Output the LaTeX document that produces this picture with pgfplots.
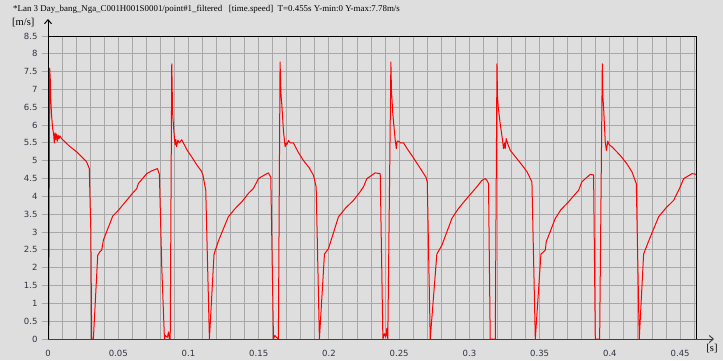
\documentclass[border=0pt]{standalone}
\usepackage{pgfplots}
\pgfplotsset{compat=1.18}
\usepackage{fontspec}
\setmainfont{Liberation Serif}
\newfontfamily\tickfont{DejaVu Sans}
\usetikzlibrary{arrows.meta}
\definecolor{bgc}{RGB}{222,222,222}
\definecolor{gridc}{RGB}{168,168,168}
\definecolor{tickc}{RGB}{45,52,68}
\begin{document}
\begin{tikzpicture}
\fill[bgc] (-48pt,-21pt) rectangle (675pt,339pt);
\useasboundingbox (-48pt,-21pt) rectangle (675pt,339pt);
\begin{axis}[
  at={(0pt,0pt)}, anchor=south west,
  scale only axis, width=648pt, height=303pt,
  xmin=0, xmax=0.4613, ymin=0, ymax=8.5,
  axis line style={draw=none},
  xtick={0,0.05,...,0.46},
  minor xtick={0.01,0.02,...,0.46},
  ytick={0,0.5,...,8.5},
  xtick pos=bottom, ytick pos=left,
  tick align=outside,
  major tick length=6pt,
  minor tick length=0pt,
  x tick style={draw=none},
  y tick style={draw=gridc, line width=1pt},
  grid=both,
  major grid style={draw=gridc, line width=1pt},
  minor grid style={draw=gridc, line width=1pt},
  /pgf/number format/assume math mode=true,
  /pgf/number format/fixed,
  /pgf/number format/precision=2,
  ticklabel style={font=\tickfont\fontsize{8.5}{10}\selectfont, text=tickc},
  xticklabel style={yshift=-1.5pt},
  yticklabel style={xshift=-1pt},
  clip=false,
]
\addplot[red, line width=1pt, line join=round] coordinates {
(0,0) (0.0005,0) (0.0012,7.6) (0.0016,7.3) (0.0019,6.79) (0.0025,6.3) (0.0033,5.91)
(0.0040,5.75) (0.0045,5.5) (0.0050,5.78) (0.0055,5.6) (0.0060,5.75) (0.0066,5.55)
(0.0072,5.72) (0.0078,5.62) (0.0084,5.7) (0.0097,5.62) (0.0150,5.42) (0.0204,5.25)
(0.0250,5.07) (0.0275,4.97) (0.0294,4.78) (0.0305,3.0) (0.0311,0) (0.0323,0)
(0.0354,2.35) (0.0370,2.45) (0.0382,2.49) (0.0394,2.77) (0.0461,3.45) (0.0501,3.61)
(0.0560,3.89) (0.0600,4.08) (0.0632,4.22) (0.0643,4.36) (0.0703,4.64) (0.0740,4.72)
(0.0779,4.78) (0.0793,4.62) (0.0810,2.0) (0.0829,0) (0.0835,0.1) (0.0850,0.05)
(0.0858,0.2) (0.0864,0) (0.0870,0) (0.0881,7.72) (0.0884,7.1) (0.0886,6.41)
(0.0893,6.0) (0.0900,5.62) (0.0905,5.45) (0.0910,5.6) (0.0915,5.4) (0.0925,5.58)
(0.0935,5.5) (0.0952,5.59) (0.0990,5.3) (0.1023,5.11) (0.1060,4.88) (0.1090,4.72)
(0.1102,4.62) (0.1123,4.17) (0.1149,0) (0.1182,2.38) (0.1213,2.75) (0.1284,3.43)
(0.1330,3.65) (0.1380,3.85) (0.1430,4.1) (0.1462,4.22) (0.1498,4.50) (0.1540,4.6)
(0.1569,4.66) (0.1586,4.54) (0.1605,0) (0.1615,0.1) (0.1625,0.05) (0.1640,0)
(0.1652,7.77) (0.1658,6.9) (0.1664,6.60) (0.1676,5.85) (0.1688,5.39) (0.1695,5.5)
(0.1700,5.45) (0.1712,5.57) (0.1725,5.5) (0.1747,5.5) (0.1780,5.25) (0.1818,5.01)
(0.1860,4.8) (0.1890,4.59) (0.1909,4.27) (0.1932,0) (0.1968,2.38) (0.1997,2.54)
(0.2068,3.43) (0.2120,3.68) (0.2175,3.89) (0.2220,4.12) (0.2246,4.27) (0.2270,4.50)
(0.2300,4.58) (0.2329,4.66) (0.2365,4.64) (0.2384,0) (0.2395,0.15) (0.2405,0.05)
(0.2412,0.3) (0.2419,0) (0.2441,7.77) (0.2445,6.97) (0.2455,6.3) (0.2472,5.57)
(0.2480,5.34) (0.2485,5.55) (0.2495,5.55) (0.2510,5.5) (0.2531,5.5) (0.2560,5.32)
(0.2590,5.15) (0.2640,4.85) (0.2692,4.53) (0.2700,4.4) (0.2721,0) (0.2768,2.38)
(0.2804,2.63) (0.2875,3.38) (0.2920,3.65) (0.2970,3.89) (0.3020,4.12) (0.3053,4.27)
(0.3089,4.45) (0.3113,4.50) (0.3125,4.45) (0.3136,4.36) (0.3148,0) (0.3184,0)
(0.3196,7.72) (0.3200,6.8) (0.3205,6.51) (0.3219,6.04) (0.3235,5.6) (0.3243,5.34)
(0.3250,5.5) (0.3255,5.35) (0.3262,5.62) (0.3275,5.45) (0.3291,5.29) (0.3338,5.06)
(0.3380,4.85) (0.3410,4.69) (0.3445,4.41) (0.3469,0) (0.3509,2.38) (0.3540,2.49)
(0.3547,2.73) (0.3611,3.38) (0.3650,3.62) (0.3706,3.85) (0.3750,4.05) (0.3777,4.17)
(0.3801,4.41) (0.3860,4.62) (0.3884,4.60) (0.3896,0) (0.3927,0) (0.3946,7.72)
(0.3950,6.8) (0.3955,6.51) (0.3967,5.53) (0.3975,5.29) (0.3985,5.55) (0.3995,5.45)
(0.4015,5.39) (0.4074,5.15) (0.4120,4.92) (0.4157,4.69) (0.4188,4.36) (0.4209,0)
(0.4240,2.38) (0.4269,2.68) (0.4347,3.43) (0.4400,3.68) (0.4454,3.89) (0.4501,4.27)
(0.4525,4.50) (0.4560,4.58) (0.4585,4.64) (0.4613,4.62)
};
\end{axis}
% borders and axis arrows
\draw[black, line width=1pt] (0pt,303pt) -- (648pt,303pt) -- (648pt,0pt);
\draw[black!75, line width=1pt, -{Straight Barb[length=4pt,width=7pt]}] (0pt,0pt) -- (666pt,0pt);
\draw[black, line width=1pt, -{Straight Barb[length=4pt,width=7pt]}] (0pt,0pt) -- (0pt,320pt);
\node[anchor=west, inner sep=0pt, font=\fontsize{8.9}{10}\selectfont] at (-35pt,330pt)
  {*Lan 3 Day\_bang\_Nga\_C001H001S0001/point\#1\_filtered \ \ [time.speed] \ T=0.455s Y-min:0 Y-max:7.78m/s};
\node[anchor=west, inner sep=0pt, font=\fontsize{10.5}{12}\selectfont] at (-36pt,316pt) {[m/s]};
\node[inner sep=0pt, font=\fontsize{10.5}{12}\selectfont] at (664pt,-10pt) {[s]};
\end{tikzpicture}
\end{document}
